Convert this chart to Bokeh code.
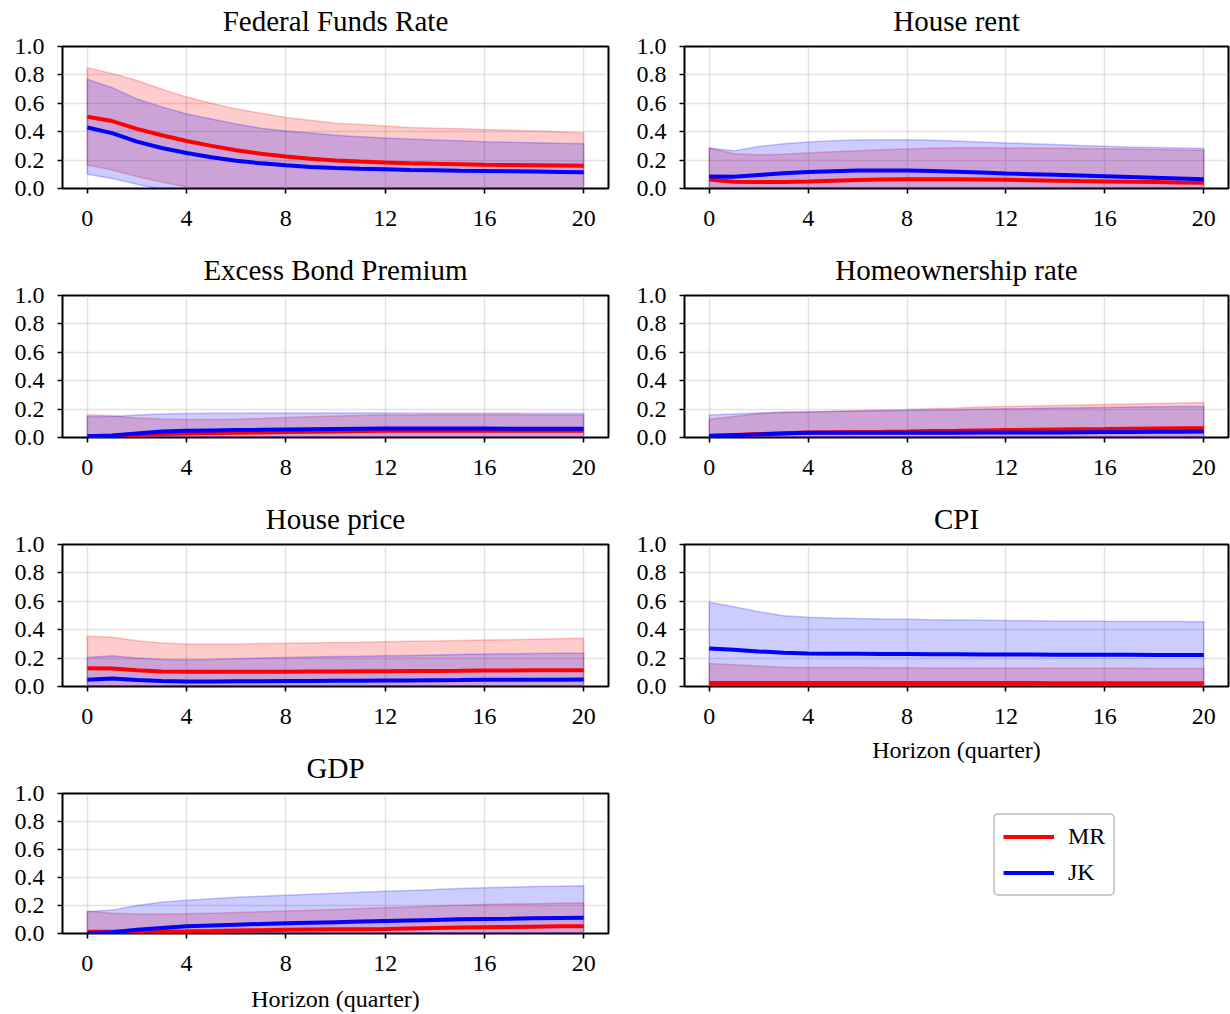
from bokeh.plotting import figure
from bokeh.layouts import row, column
from bokeh.models import FixedTicker, PrintfTickFormatter, Range1d, Legend, LegendItem, Title
from bokeh.embed import file_html
from bokeh.resources import INLINE

horizon = list(range(21))
x_ticks = [0, 4, 8, 12, 16, 20]
y_ticks = [0.0, 0.2, 0.4, 0.6, 0.8, 1.0]
series_names = ["MR", "JK"]

# Federal Funds Rate
ffr_mr = [0.505, 0.475, 0.42, 0.375, 0.335, 0.30, 0.27, 0.245, 0.225, 0.21, 0.198, 0.19, 0.183, 0.178, 0.174, 0.171, 0.168, 0.166, 0.164, 0.162, 0.16]
ffr_mr_hi = [0.85, 0.81, 0.76, 0.70, 0.645, 0.60, 0.56, 0.53, 0.50, 0.48, 0.46, 0.45, 0.44, 0.43, 0.425, 0.42, 0.415, 0.41, 0.405, 0.40, 0.39]
ffr_mr_lo = [0.165, 0.13, 0.085, 0.045, 0.01, -0.02, -0.04, -0.06, -0.07, -0.08, -0.09, -0.095, -0.10, -0.10, -0.10, -0.10, -0.10, -0.10, -0.10, -0.10, -0.10]
ffr_jk = [0.43, 0.39, 0.33, 0.285, 0.25, 0.22, 0.195, 0.177, 0.163, 0.152, 0.144, 0.139, 0.135, 0.131, 0.128, 0.125, 0.123, 0.121, 0.119, 0.117, 0.115]
ffr_jk_hi = [0.77, 0.71, 0.63, 0.575, 0.525, 0.49, 0.455, 0.425, 0.405, 0.39, 0.375, 0.365, 0.355, 0.348, 0.342, 0.336, 0.33, 0.326, 0.322, 0.318, 0.315]
ffr_jk_lo = [0.10, 0.07, 0.03, -0.005, -0.04, -0.07, -0.09, -0.10, -0.11, -0.12, -0.12, -0.12, -0.12, -0.12, -0.12, -0.12, -0.12, -0.12, -0.12, -0.12, -0.12]

# House rent
rent_mr = [0.063, 0.048, 0.045, 0.046, 0.049, 0.054, 0.059, 0.063, 0.066, 0.066, 0.065, 0.063, 0.061, 0.058, 0.055, 0.052, 0.05, 0.047, 0.045, 0.042, 0.04]
rent_mr_hi = [0.285, 0.245, 0.238, 0.242, 0.25, 0.258, 0.266, 0.273, 0.279, 0.284, 0.287, 0.287, 0.286, 0.285, 0.284, 0.282, 0.28, 0.278, 0.275, 0.272, 0.269]
rent_mr_lo = [0.008, 0.004, 0.003, 0.003, 0.003, 0.003, 0.003, 0.003, 0.003, 0.003, 0.003, 0.003, 0.003, 0.003, 0.003, 0.003, 0.003, 0.003, 0.003, 0.003, 0.003]
rent_jk = [0.085, 0.082, 0.095, 0.107, 0.116, 0.122, 0.126, 0.127, 0.126, 0.123, 0.118, 0.112, 0.106, 0.101, 0.096, 0.091, 0.086, 0.081, 0.076, 0.071, 0.066]
rent_jk_hi = [0.285, 0.265, 0.295, 0.315, 0.327, 0.336, 0.342, 0.344, 0.343, 0.34, 0.335, 0.328, 0.321, 0.315, 0.309, 0.303, 0.298, 0.293, 0.289, 0.285, 0.281]
rent_jk_lo = [0.004, 0.004, 0.004, 0.004, 0.004, 0.004, 0.004, 0.004, 0.004, 0.004, 0.004, 0.004, 0.004, 0.004, 0.004, 0.004, 0.004, 0.004, 0.004, 0.004, 0.004]

# Excess Bond Premium
ebp_mr = [0.01, 0.012, 0.018, 0.024, 0.028, 0.031, 0.034, 0.036, 0.038, 0.04, 0.043, 0.045, 0.047, 0.047, 0.047, 0.047, 0.047, 0.047, 0.047, 0.047, 0.047]
ebp_mr_hi = [0.16, 0.153, 0.138, 0.13, 0.127, 0.127, 0.129, 0.134, 0.141, 0.146, 0.151, 0.155, 0.158, 0.159, 0.16, 0.16, 0.16, 0.16, 0.159, 0.159, 0.158]
ebp_mr_lo = [0.002, 0.002, 0.002, 0.002, 0.002, 0.002, 0.002, 0.002, 0.002, 0.002, 0.002, 0.002, 0.002, 0.002, 0.002, 0.002, 0.002, 0.002, 0.002, 0.002, 0.002]
ebp_jk = [0.008, 0.014, 0.028, 0.042, 0.047, 0.050, 0.052, 0.054, 0.056, 0.058, 0.060, 0.062, 0.064, 0.064, 0.064, 0.063, 0.063, 0.062, 0.062, 0.061, 0.061]
ebp_jk_hi = [0.148, 0.148, 0.158, 0.165, 0.169, 0.17, 0.171, 0.172, 0.172, 0.172, 0.172, 0.172, 0.172, 0.171, 0.171, 0.17, 0.17, 0.17, 0.169, 0.169, 0.169]
ebp_jk_lo = [0.002, 0.002, 0.002, 0.002, 0.002, 0.002, 0.002, 0.002, 0.002, 0.002, 0.002, 0.002, 0.002, 0.002, 0.002, 0.002, 0.002, 0.002, 0.002, 0.002, 0.002]

# Homeownership rate
home_mr = [0.012, 0.018, 0.024, 0.03, 0.035, 0.037, 0.039, 0.04, 0.042, 0.045, 0.047, 0.05, 0.052, 0.054, 0.056, 0.058, 0.059, 0.061, 0.063, 0.065, 0.066]
home_mr_hi = [0.129, 0.148, 0.169, 0.176, 0.179, 0.184, 0.189, 0.194, 0.198, 0.203, 0.208, 0.214, 0.219, 0.222, 0.226, 0.229, 0.233, 0.236, 0.240, 0.243, 0.247]
home_mr_lo = [0.002, 0.002, 0.002, 0.002, 0.002, 0.002, 0.002, 0.002, 0.002, 0.002, 0.002, 0.002, 0.002, 0.002, 0.002, 0.002, 0.002, 0.002, 0.002, 0.002, 0.002]
home_jk = [0.01, 0.016, 0.022, 0.028, 0.033, 0.033, 0.033, 0.033, 0.033, 0.034, 0.034, 0.035, 0.035, 0.036, 0.036, 0.037, 0.038, 0.039, 0.040, 0.041, 0.042]
home_jk_hi = [0.158, 0.165, 0.172, 0.179, 0.181, 0.183, 0.186, 0.188, 0.19, 0.193, 0.196, 0.199, 0.202, 0.204, 0.207, 0.209, 0.212, 0.214, 0.216, 0.218, 0.219]
home_jk_lo = [0.002, 0.002, 0.002, 0.002, 0.002, 0.002, 0.002, 0.002, 0.002, 0.002, 0.002, 0.002, 0.002, 0.002, 0.002, 0.002, 0.002, 0.002, 0.002, 0.002, 0.002]

# House price
hp_mr = [0.129, 0.127, 0.115, 0.106, 0.104, 0.104, 0.104, 0.104, 0.104, 0.105, 0.106, 0.107, 0.108, 0.109, 0.110, 0.111, 0.113, 0.113, 0.114, 0.114, 0.115]
hp_mr_hi = [0.353, 0.346, 0.322, 0.306, 0.299, 0.299, 0.300, 0.302, 0.304, 0.307, 0.310, 0.312, 0.315, 0.318, 0.321, 0.324, 0.327, 0.330, 0.333, 0.336, 0.339]
hp_mr_lo = [0.006, 0.006, 0.005, 0.005, 0.005, 0.005, 0.005, 0.005, 0.005, 0.005, 0.005, 0.005, 0.005, 0.005, 0.005, 0.005, 0.005, 0.005, 0.005, 0.005, 0.005]
hp_jk = [0.047, 0.056, 0.045, 0.038, 0.035, 0.036, 0.037, 0.037, 0.038, 0.039, 0.040, 0.041, 0.042, 0.043, 0.044, 0.045, 0.047, 0.047, 0.048, 0.048, 0.049]
hp_jk_hi = [0.205, 0.216, 0.200, 0.191, 0.188, 0.190, 0.195, 0.200, 0.205, 0.208, 0.211, 0.213, 0.216, 0.219, 0.222, 0.225, 0.228, 0.230, 0.232, 0.234, 0.235]
hp_jk_lo = [0.003, 0.003, 0.003, 0.003, 0.003, 0.003, 0.003, 0.003, 0.003, 0.003, 0.003, 0.003, 0.003, 0.003, 0.003, 0.003, 0.003, 0.003, 0.003, 0.003, 0.003]

# CPI
cpi_mr = [0.025, 0.025, 0.024, 0.024, 0.024, 0.024, 0.024, 0.024, 0.024, 0.024, 0.024, 0.024, 0.024, 0.024, 0.023, 0.023, 0.023, 0.023, 0.023, 0.023, 0.023]
cpi_mr_hi = [0.162, 0.153, 0.144, 0.136, 0.134, 0.133, 0.133, 0.132, 0.132, 0.131, 0.130, 0.130, 0.129, 0.129, 0.128, 0.128, 0.128, 0.128, 0.127, 0.127, 0.127]
cpi_mr_lo = [0.001, 0.001, 0.001, 0.001, 0.001, 0.001, 0.001, 0.001, 0.001, 0.001, 0.001, 0.001, 0.001, 0.001, 0.001, 0.001, 0.001, 0.001, 0.001, 0.001, 0.001]
cpi_jk = [0.268, 0.259, 0.247, 0.238, 0.233, 0.231, 0.230, 0.229, 0.228, 0.227, 0.227, 0.226, 0.226, 0.225, 0.224, 0.224, 0.223, 0.223, 0.222, 0.222, 0.221]
cpi_jk_hi = [0.593, 0.562, 0.527, 0.499, 0.487, 0.482, 0.478, 0.475, 0.473, 0.470, 0.468, 0.466, 0.464, 0.463, 0.462, 0.461, 0.459, 0.458, 0.457, 0.457, 0.456]
cpi_jk_lo = [0.005, 0.005, 0.005, 0.005, 0.005, 0.005, 0.005, 0.005, 0.005, 0.005, 0.005, 0.005, 0.005, 0.005, 0.005, 0.005, 0.005, 0.005, 0.005, 0.005, 0.005]

# GDP
gdp_mr = [0.012, 0.013, 0.014, 0.015, 0.016, 0.018, 0.021, 0.023, 0.026, 0.028, 0.030, 0.031, 0.033, 0.036, 0.039, 0.042, 0.045, 0.047, 0.049, 0.051, 0.052]
gdp_mr_hi = [0.16, 0.144, 0.139, 0.140, 0.141, 0.145, 0.150, 0.155, 0.160, 0.166, 0.172, 0.178, 0.184, 0.190, 0.196, 0.202, 0.207, 0.210, 0.213, 0.216, 0.219]
gdp_mr_lo = [0.002, 0.002, 0.002, 0.002, 0.002, 0.002, 0.002, 0.002, 0.002, 0.002, 0.002, 0.002, 0.002, 0.002, 0.002, 0.002, 0.002, 0.002, 0.002, 0.002, 0.002]
gdp_jk = [0.002, 0.009, 0.026, 0.04, 0.052, 0.058, 0.063, 0.068, 0.073, 0.077, 0.081, 0.085, 0.089, 0.093, 0.097, 0.101, 0.104, 0.106, 0.109, 0.111, 0.113]
gdp_jk_hi = [0.155, 0.167, 0.20, 0.224, 0.238, 0.249, 0.259, 0.266, 0.273, 0.280, 0.287, 0.294, 0.301, 0.308, 0.314, 0.321, 0.327, 0.331, 0.335, 0.338, 0.341]
gdp_jk_lo = [0.002, 0.002, 0.002, 0.002, 0.002, 0.002, 0.002, 0.002, 0.002, 0.002, 0.002, 0.002, 0.002, 0.002, 0.002, 0.002, 0.002, 0.002, 0.002, 0.002, 0.002]

FONT = "Liberation Serif"
RED = "#ff0000"
BLUE = "#0000ff"
LW = 4

W = 615
ROW_H = 249
TOP = 46
FRAME_H = 142


def make_panel(title, mr, mr_lo, mr_hi, jk, jk_lo, jk_hi, col, height, xlabel=None, xlabel_standoff=10):
    if col == 0:
        bl, br = 62, 7
    else:
        bl, br = 69, 2
    p = figure(width=W, height=height, output_backend="svg", toolbar_location=None,
               x_range=Range1d(-1, 21), y_range=Range1d(0, 1),
               min_border_left=bl, min_border_right=br, min_border_top=TOP,
               min_border_bottom=height - TOP - FRAME_H)
    # small blank spacer between title and frame
    p.add_layout(Title(text=" ", text_font_size="5px", standoff=1), "above")
    p.title.text = title
    p.title.align = "center"
    p.title.text_font = FONT
    p.title.text_font_size = "29px"
    p.title.text_font_style = "normal"
    p.title.text_color = "black"
    p.title.standoff = 2
    p.outline_line_color = "black"
    p.outline_line_width = 2
    p.outline_line_alpha = 1
    p.background_fill_color = "white"
    p.border_fill_color = "white"

    for ax in (p.xaxis[0], p.yaxis[0]):
        ax.axis_line_color = None
        ax.major_tick_line_color = "black"
        ax.major_tick_line_width = 1.6
        ax.major_tick_out = 5
        ax.major_tick_in = 0
        ax.minor_tick_line_color = None
        ax.major_label_text_font = FONT
        ax.major_label_text_font_size = "24px"
        ax.major_label_text_color = "black"
    p.xaxis[0].ticker = FixedTicker(ticks=x_ticks)
    p.yaxis[0].ticker = FixedTicker(ticks=y_ticks)
    p.yaxis[0].formatter = PrintfTickFormatter(format="%.1f")
    p.xaxis[0].major_label_standoff = 17
    p.yaxis[0].major_label_standoff = 13
    if xlabel:
        p.xaxis[0].axis_label = xlabel
        p.xaxis[0].axis_label_text_font = FONT
        p.xaxis[0].axis_label_text_font_size = "24px"
        p.xaxis[0].axis_label_text_font_style = "normal"
        p.xaxis[0].axis_label_text_color = "black"
        p.xaxis[0].axis_label_standoff = xlabel_standoff

    p.xgrid.ticker = FixedTicker(ticks=x_ticks)
    p.ygrid.ticker = FixedTicker(ticks=y_ticks)
    for g in (p.xgrid[0], p.ygrid[0]):
        g.grid_line_color = "#b0b0b0"
        g.grid_line_alpha = 0.35
        g.grid_line_width = 1.5

    for lo, hi, c in ((mr_lo, mr_hi, RED), (jk_lo, jk_hi, BLUE)):
        xs = horizon + horizon[::-1]
        ys = list(hi) + list(lo)[::-1]
        p.patch(xs, ys, fill_color=c, fill_alpha=0.2, line_color=c, line_alpha=0.22, line_width=1.5)
    p.line(horizon, mr, line_color=RED, line_width=LW)
    p.line(horizon, jk, line_color=BLUE, line_width=LW)
    return p


p1 = make_panel("Federal Funds Rate", ffr_mr, ffr_mr_lo, ffr_mr_hi, ffr_jk, ffr_jk_lo, ffr_jk_hi, 0, ROW_H)
p2 = make_panel("House rent", rent_mr, rent_mr_lo, rent_mr_hi, rent_jk, rent_jk_lo, rent_jk_hi, 1, ROW_H)
p3 = make_panel("Excess Bond Premium", ebp_mr, ebp_mr_lo, ebp_mr_hi, ebp_jk, ebp_jk_lo, ebp_jk_hi, 0, ROW_H)
p4 = make_panel("Homeownership rate", home_mr, home_mr_lo, home_mr_hi, home_jk, home_jk_lo, home_jk_hi, 1, ROW_H)
p5 = make_panel("House price", hp_mr, hp_mr_lo, hp_mr_hi, hp_jk, hp_jk_lo, hp_jk_hi, 0, ROW_H)
p6 = make_panel("CPI", cpi_mr, cpi_mr_lo, cpi_mr_hi, cpi_jk, cpi_jk_lo, cpi_jk_hi, 1, 279,
                xlabel="Horizon (quarter)", xlabel_standoff=10)
p7 = make_panel("GDP", gdp_mr, gdp_mr_lo, gdp_mr_hi, gdp_jk, gdp_jk_lo, gdp_jk_hi, 0, 1014 - 3 * ROW_H,
                xlabel="Horizon (quarter)", xlabel_standoff=12)

# Legend cell
LH = 1014 - 2 * ROW_H - 279
pl = figure(width=W, height=LH, output_backend="svg", toolbar_location=None,
            x_range=Range1d(0, 1), y_range=Range1d(0, 1),
            x_axis_type=None, y_axis_type=None,
            min_border_left=0, min_border_right=0, min_border_top=0, min_border_bottom=0)
pl.grid.visible = False
pl.outline_line_color = None
pl.border_fill_color = "white"
r_mr = pl.line([-5, -4], [-5, -4], line_color=RED, line_width=LW)
r_jk = pl.line([-5, -4], [-5, -4], line_color=BLUE, line_width=LW)
leg = Legend(items=[LegendItem(label=series_names[0], renderers=[r_mr]),
                    LegendItem(label=series_names[1], renderers=[r_jk])],
             location=(309, 118))
leg.label_text_font = FONT
leg.label_text_font_size = "24px"
leg.label_text_color = "black"
leg.glyph_width = 51
leg.glyph_height = 25
leg.label_standoff = 14
leg.spacing = 9
leg.padding = 8
leg.margin = 0
leg.border_line_color = "#cccccc"
leg.border_line_width = 2
leg.border_line_alpha = 1
leg.background_fill_color = "white"
leg.background_fill_alpha = 1
if "border_radius" in Legend.properties():
    leg.border_radius = 5
pl.add_layout(leg, "center")

layout = row(column(p1, p3, p5, p7), column(p2, p4, p6, pl))

open("out.html", "w").write(file_html(layout, INLINE))
